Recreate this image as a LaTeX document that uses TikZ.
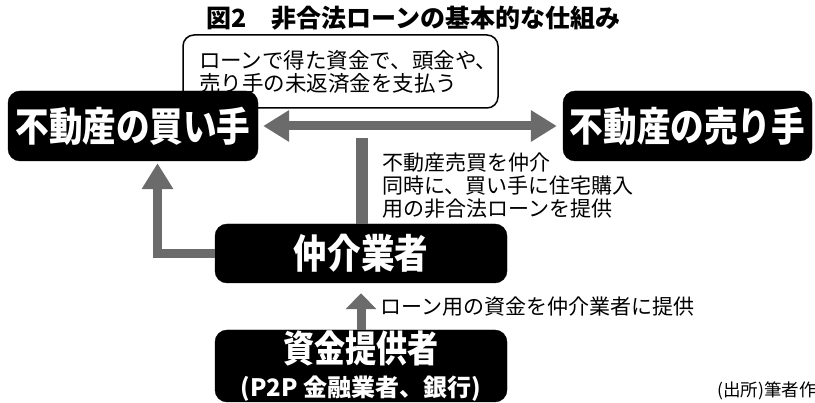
\documentclass[tikz,border=0pt]{standalone}
\usepackage{fontspec}
\newfontfamily\cjk{Noto Sans CJK JP}
\newfontfamily\cjknarrow[FakeStretch=0.84]{Noto Sans CJK JP}
\usetikzlibrary{arrows.meta,positioning}

\tikzset{
  darkbox/.style={draw=black, fill=black, text=white, rounded corners=12pt,
    inner sep=0pt, font=\cjknarrow\bfseries\fontsize{40}{42}\selectfont},
  notebox/.style={draw=black, line width=1.5pt, fill=white, rounded corners=11pt,
    align=left, inner sep=0pt, font=\cjk\fontsize{21.5}{23}\selectfont},
  remark/.style={align=left, inner sep=0pt, font=\cjk\fontsize{21}{23}\selectfont},
  fatline/.style={line width=9pt, draw=black!58},
  fatarrow/.style={fatline, -{Triangle[width=30pt,length=26pt]}},
  fatboth/.style={fatline, {Triangle[width=30pt,length=26pt]}-{Triangle[width=30pt,length=26pt]}},
}

\begin{document}
\begin{tikzpicture}[x=1pt,y=-1pt]
\useasboundingbox (0,0) rectangle (815,403);

% title
\node[font=\cjk\bfseries\fontsize{25}{27}\selectfont] (title) at (413,18)
  {図2　非合法ローンの基本的な仕組み};

% note above the buyer
\node[notebox, minimum width=315pt, minimum height=73pt, text width=295pt]
  (note) at (340.5,71.5) {\hspace*{6pt}ローンで得た資金で、頭金や、\\\hspace*{6pt}売り手の未返済金を支払う};

% buyer and seller
\node[darkbox, minimum width=250pt, minimum height=70pt] (buyer) at (133,126) {不動産の買い手};
\node[darkbox, minimum width=249pt, minimum height=70pt] (seller) at (687.5,126) {不動産の売り手};
\draw[fatboth, shorten <=5pt, shorten >=6pt] (buyer.east) -- (seller.west);

% broker
\node[darkbox, minimum width=292pt, minimum height=59pt] (broker) at (361,253.5) {仲介業者};
\coordinate (bartop) at (362,138);
\draw[fatline, line width=12pt] (bartop) -- (broker.north -| bartop);
\node[remark, anchor=west] (deal) at (382,186)
  {不動産売買を仲介\\同時に、買い手に住宅購入\\用の非合法ローンを提供};

% loan to the buyer
\draw[fatarrow, shorten >=2pt] (broker.west) -| ([xshift=24.5pt]buyer.south);

% fund provider
\node[darkbox, minimum width=292pt, minimum height=72pt, align=center,
  font=\cjknarrow\bfseries\fontsize{37}{37}\selectfont] (fund) at (361,366)
  {資金提供者\\[-3pt]{\cjk\fontsize{24}{26}\selectfont (P2P 金融業者、銀行)}};
\draw[fatline, -{Triangle[width=30pt,length=16pt]}, shorten >=10pt] (fund.north) -- (broker.south);
\node[remark, anchor=west] (fundnote) at (380,307)
  {ローン用の資金を仲介業者に提供};

% source
\node[anchor=west, inner sep=0pt, font=\cjk\fontsize{17.5}{19}\selectfont] (source) at (717,391)
  {(出所)筆者作};

\end{tikzpicture}
\end{document}
